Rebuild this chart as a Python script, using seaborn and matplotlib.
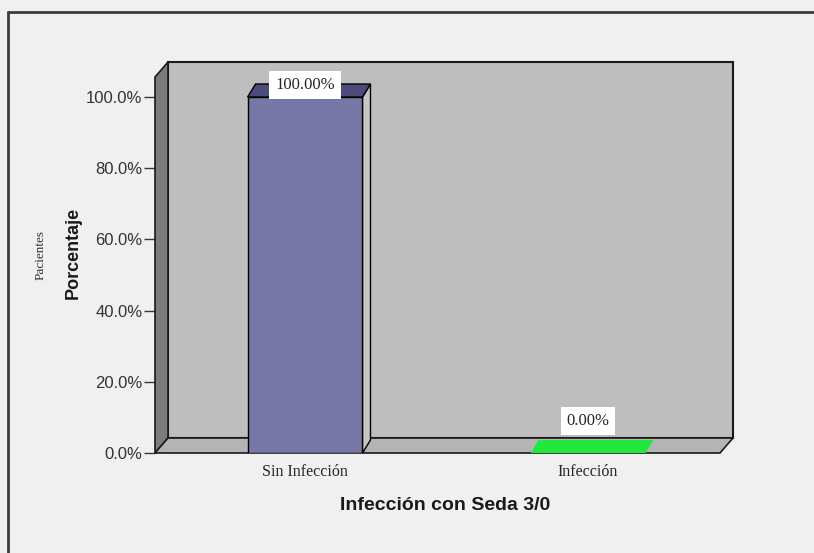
import matplotlib.pyplot as plt
import seaborn as sns
import pandas as pd
from matplotlib.patches import Polygon
from matplotlib.lines import Line2D
from matplotlib.ticker import FuncFormatter


# ---------------------------------------------------
# Data
# ---------------------------------------------------

categories = ["Sin Infección", "Infección"]
percentages = [100.0, 0.0]
bar_labels = ["100.00%", "0.00%"]
ytick_values = [0, 20, 40, 60, 80, 100]

bar_colors = ["#7878a8", "#22e83c"]
top_colors = ["#4c4c7c", "#22e83c"]


# ---------------------------------------------------
# Figure setup
# ---------------------------------------------------

sns.set_style("white")
plt.rcParams["font.family"] = ["Liberation Sans", "DejaVu Sans"]

fig = plt.figure(figsize=(8.14, 5.53), dpi=100)
fig.patch.set_facecolor("#f0f0f0")

ax = fig.add_axes([155 / 814, 100 / 553, 565 / 814, 391.6 / 553])
ax.patch.set_alpha(0)

df = pd.DataFrame({"grupo": categories, "pct": percentages})

sns.barplot(
    data=df, x="grupo", y="pct", hue="grupo", palette=bar_colors,
    saturation=1, width=0.406, edgecolor="black", linewidth=1,
    legend=False, ax=ax, zorder=3
)
bars = list(ax.patches)

ax.set_xlim(-0.53, 1.466)
ax.set_ylim(0, 110)


def px_offset(dx, dy):
    # pixel offset -> data offset
    o = ax.transData.transform((0, 0))
    p = ax.transData.inverted().transform((o[0] + dx, o[1] + dy))
    return p[0], p[1]


# ---------------------------------------------------
# 3D walls
# ---------------------------------------------------

x0, x1 = ax.get_xlim()
wall_top = 105.6
wdx, wdy = px_offset(13, 15)

back = Polygon([(x0 + wdx, wdy), (x1 + wdx, wdy), (x1 + wdx, wall_top + wdy),
                (x0 + wdx, wall_top + wdy)],
               facecolor="#bebebe", edgecolor="#1a1a1a", lw=1.5, zorder=0, clip_on=False)
left = Polygon([(x0, 0), (x0 + wdx, wdy), (x0 + wdx, wall_top + wdy), (x0, wall_top)],
               facecolor="#7c7c7c", edgecolor="#1a1a1a", lw=1.2, zorder=1, clip_on=False)
floor = Polygon([(x0, 0), (x1, 0), (x1 + wdx, wdy), (x0 + wdx, wdy)],
                facecolor="#b4b4b4", edgecolor="#1a1a1a", lw=1.2, zorder=1, clip_on=False)
for p in (back, left, floor):
    ax.add_patch(p)


# ---------------------------------------------------
# 3D bars
# ---------------------------------------------------

bdx, bdy = px_offset(8, 13)

for i, bar in enumerate(bars):
    bx, bw, bh = bar.get_x(), bar.get_width(), bar.get_height()
    if bh > 0:
        side = Polygon([(bx + bw, 0), (bx + bw + bdx, bdy), (bx + bw + bdx, bh + bdy), (bx + bw, bh)],
                       facecolor="#c6c6c6", edgecolor="black", lw=1, zorder=2)
        top = Polygon([(bx, bh), (bx + bw, bh), (bx + bw + bdx, bh + bdy), (bx + bdx, bh + bdy)],
                      facecolor=top_colors[i], edgecolor="black", lw=1, zorder=4)
        ax.add_patch(side)
        ax.add_patch(top)
        offset = 4
    else:
        bar.set_edgecolor("none")
        top = Polygon([(bx, bh), (bx + bw, bh), (bx + bw + bdx, bh + bdy), (bx + bdx, bh + bdy)],
                      facecolor=top_colors[i], edgecolor="none", zorder=4)
        ax.add_patch(top)
        offset = 24

    ax.annotate(
        bar_labels[i], (bx + bw / 2, bh), xytext=(0, offset),
        textcoords="offset pixels", ha="center", va="bottom",
        fontsize=12, family=["Liberation Serif", "DejaVu Serif"], zorder=6,
        bbox=dict(boxstyle="square,pad=0.35", facecolor="white", edgecolor="none")
    )


# ---------------------------------------------------
# Axes, ticks and labels
# ---------------------------------------------------

for s in ax.spines.values():
    s.set_visible(False)

ax.set_yticks(ytick_values)
ax.yaxis.set_major_formatter(FuncFormatter(lambda v, p: f"{v:.1f}%"))
ax.tick_params(axis="y", left=True, direction="out", length=8, width=1,
               color="#333333", labelsize=12, labelcolor="#333333", pad=1)
ax.tick_params(axis="x", length=0, pad=8)

ax.set_xticks(range(len(categories)))
ax.set_xticklabels(categories, fontsize=11.5, family=["Liberation Serif", "DejaVu Serif"])

ax.set_xlabel("Infección con Seda 3/0", fontsize=14, fontweight="bold", color="#1a1a1a")
ax.xaxis.set_label_coords(0.513, -0.112)

ax.set_ylabel("Porcentaje", fontsize=13, fontweight="bold", color="#1a1a1a", va="center")
ax.yaxis.set_label_coords(-0.145, 0.51)

fig.text(41 / 814, 1 - 255 / 553, "Pacientes", rotation=90, ha="center", va="center",
         fontsize=9.5, family=["Liberation Serif", "DejaVu Serif"], color="#333333")

# outer frame (top and left edges)
fig.add_artist(Line2D([8 / 814, 8 / 814], [0, 1 - 12 / 553], transform=fig.transFigure,
                      color="#3c3c3c", lw=2))
fig.add_artist(Line2D([8 / 814, 1], [1 - 12 / 553, 1 - 12 / 553], transform=fig.transFigure,
                      color="#3c3c3c", lw=2))

fig.savefig("out.png", dpi=100, facecolor=fig.get_facecolor())
